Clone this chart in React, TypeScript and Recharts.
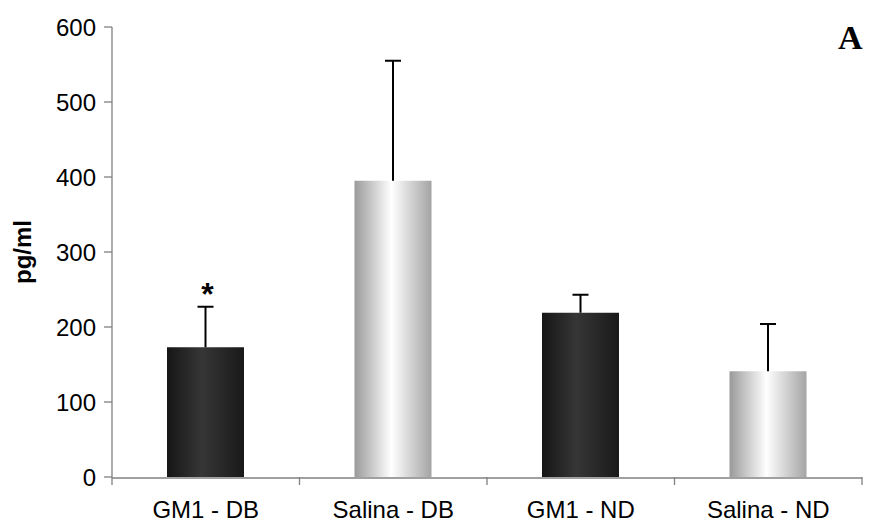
import { Bar, BarChart, XAxis, YAxis } from "recharts";

const groups = ["GM1 - DB", "Salina - DB", "GM1 - ND", "Salina - ND"];
const means = [173, 395, 219, 141];
const errors = [54, 160, 24, 63];
const marks = ["*", "", "", ""];
const yTicks = [0, 100, 200, 300, 400, 500, 600];
const edgeTicks = [0, 1, 2, 3, 4];

const data = groups.map((name, i) => ({
  name,
  mean: means[i],
  err: errors[i],
  mark: marks[i],
}));

const axisColor = "#808080";
const font = "'Liberation Sans', Arial, sans-serif";

// bar with its upward error whisker; pixel length from the bar's own scale
function ErrorColumn(props: any) {
  const { x, y, width, height, payload, index } = props;
  const pxPerUnit = payload.mean ? height / payload.mean : 0;
  const cx = x + width / 2;
  const top = y - payload.err * pxPerUnit;
  const fill = index % 2 === 0 ? "url(#darkBar)" : "url(#lightBar)";
  return (
    <g>
      <rect x={x} y={y} width={width} height={height} fill={fill} />
      <line x1={cx} y1={y} x2={cx} y2={top} stroke="#000" strokeWidth={2} />
      <line x1={cx - 8} y1={top} x2={cx + 8} y2={top} stroke="#000" strokeWidth={2} />
      {payload.mark && (
        <text
          x={cx + 2}
          y={top - 2}
          textAnchor="middle"
          fontFamily={font}
          fontWeight="bold"
          fontSize={32}
          fill="#000"
        >
          {payload.mark}
        </text>
      )}
    </g>
  );
}

export default function App() {
  return (
    <div style={{ position: "absolute", left: 0, top: 0, width: 870, height: 525, background: "#fff" }}>
      <BarChart
        width={870}
        height={525}
        data={data}
        margin={{ top: 27, right: 8, left: 0, bottom: 0 }}
      >
        <defs>
          <linearGradient id="darkBar" x1="0" y1="0" x2="1" y2="0">
            <stop offset="0%" stopColor="#161616" />
            <stop offset="45%" stopColor="#363636" />
            <stop offset="100%" stopColor="#191919" />
          </linearGradient>
          <linearGradient id="lightBar" x1="0" y1="0" x2="1" y2="0">
            <stop offset="0%" stopColor="#9a9a9a" />
            <stop offset="48%" stopColor="#ffffff" />
            <stop offset="100%" stopColor="#a4a4a4" />
          </linearGradient>
        </defs>
        {/* tick marks between the categories */}
        <XAxis
          xAxisId="aEdges"
          type="number"
          dataKey="edge"
          domain={[0, 4]}
          ticks={edgeTicks}
          allowDataOverflow
          tick={() => <g />}
          tickLine={{ stroke: axisColor, strokeWidth: 1.3 }}
          tickSize={8}
          height={1}
          axisLine={false}
        />
        <XAxis
          xAxisId="cat"
          dataKey="name"
          height={47}
          tickLine={false}
          tickSize={0}
          tickMargin={23}
          axisLine={{ stroke: axisColor, strokeWidth: 1.3 }}
          tick={{ fill: "#000", fontSize: 24, fontFamily: font }}
          interval={0}
        />
        <YAxis
          width={112}
          domain={[0, 600]}
          ticks={yTicks}
          tickSize={8}
          tickMargin={8}
          axisLine={{ stroke: axisColor, strokeWidth: 1.3 }}
          tickLine={{ stroke: axisColor, strokeWidth: 1.3 }}
          tick={{ fill: "#000", fontSize: 24, fontFamily: font }}
          label={{
            content: ({ viewBox }: any) => {
              const cy = viewBox.y + viewBox.height / 2;
              return (
                <text
                  x={22}
                  y={cy}
                  transform={`rotate(-90, 22, ${cy})`}
                  textAnchor="middle"
                  dominantBaseline="central"
                  fontFamily={font}
                  fontWeight="bold"
                  fontSize={24}
                  fill="#000"
                >
                  pg/ml
                </text>
              );
            },
          }}
        />
        <Bar
          xAxisId="cat"
          dataKey="mean"
          barSize={77}
          shape={ErrorColumn}
          isAnimationActive={false}
        />
      </BarChart>
      <div
        style={{
          position: "absolute",
          left: 838,
          top: 19,
          fontFamily: "'Liberation Serif', 'Times New Roman', serif",
          fontWeight: "bold",
          fontSize: 34,
          lineHeight: "38px",
          color: "#000",
        }}
      >
        A
      </div>
    </div>
  );
}
